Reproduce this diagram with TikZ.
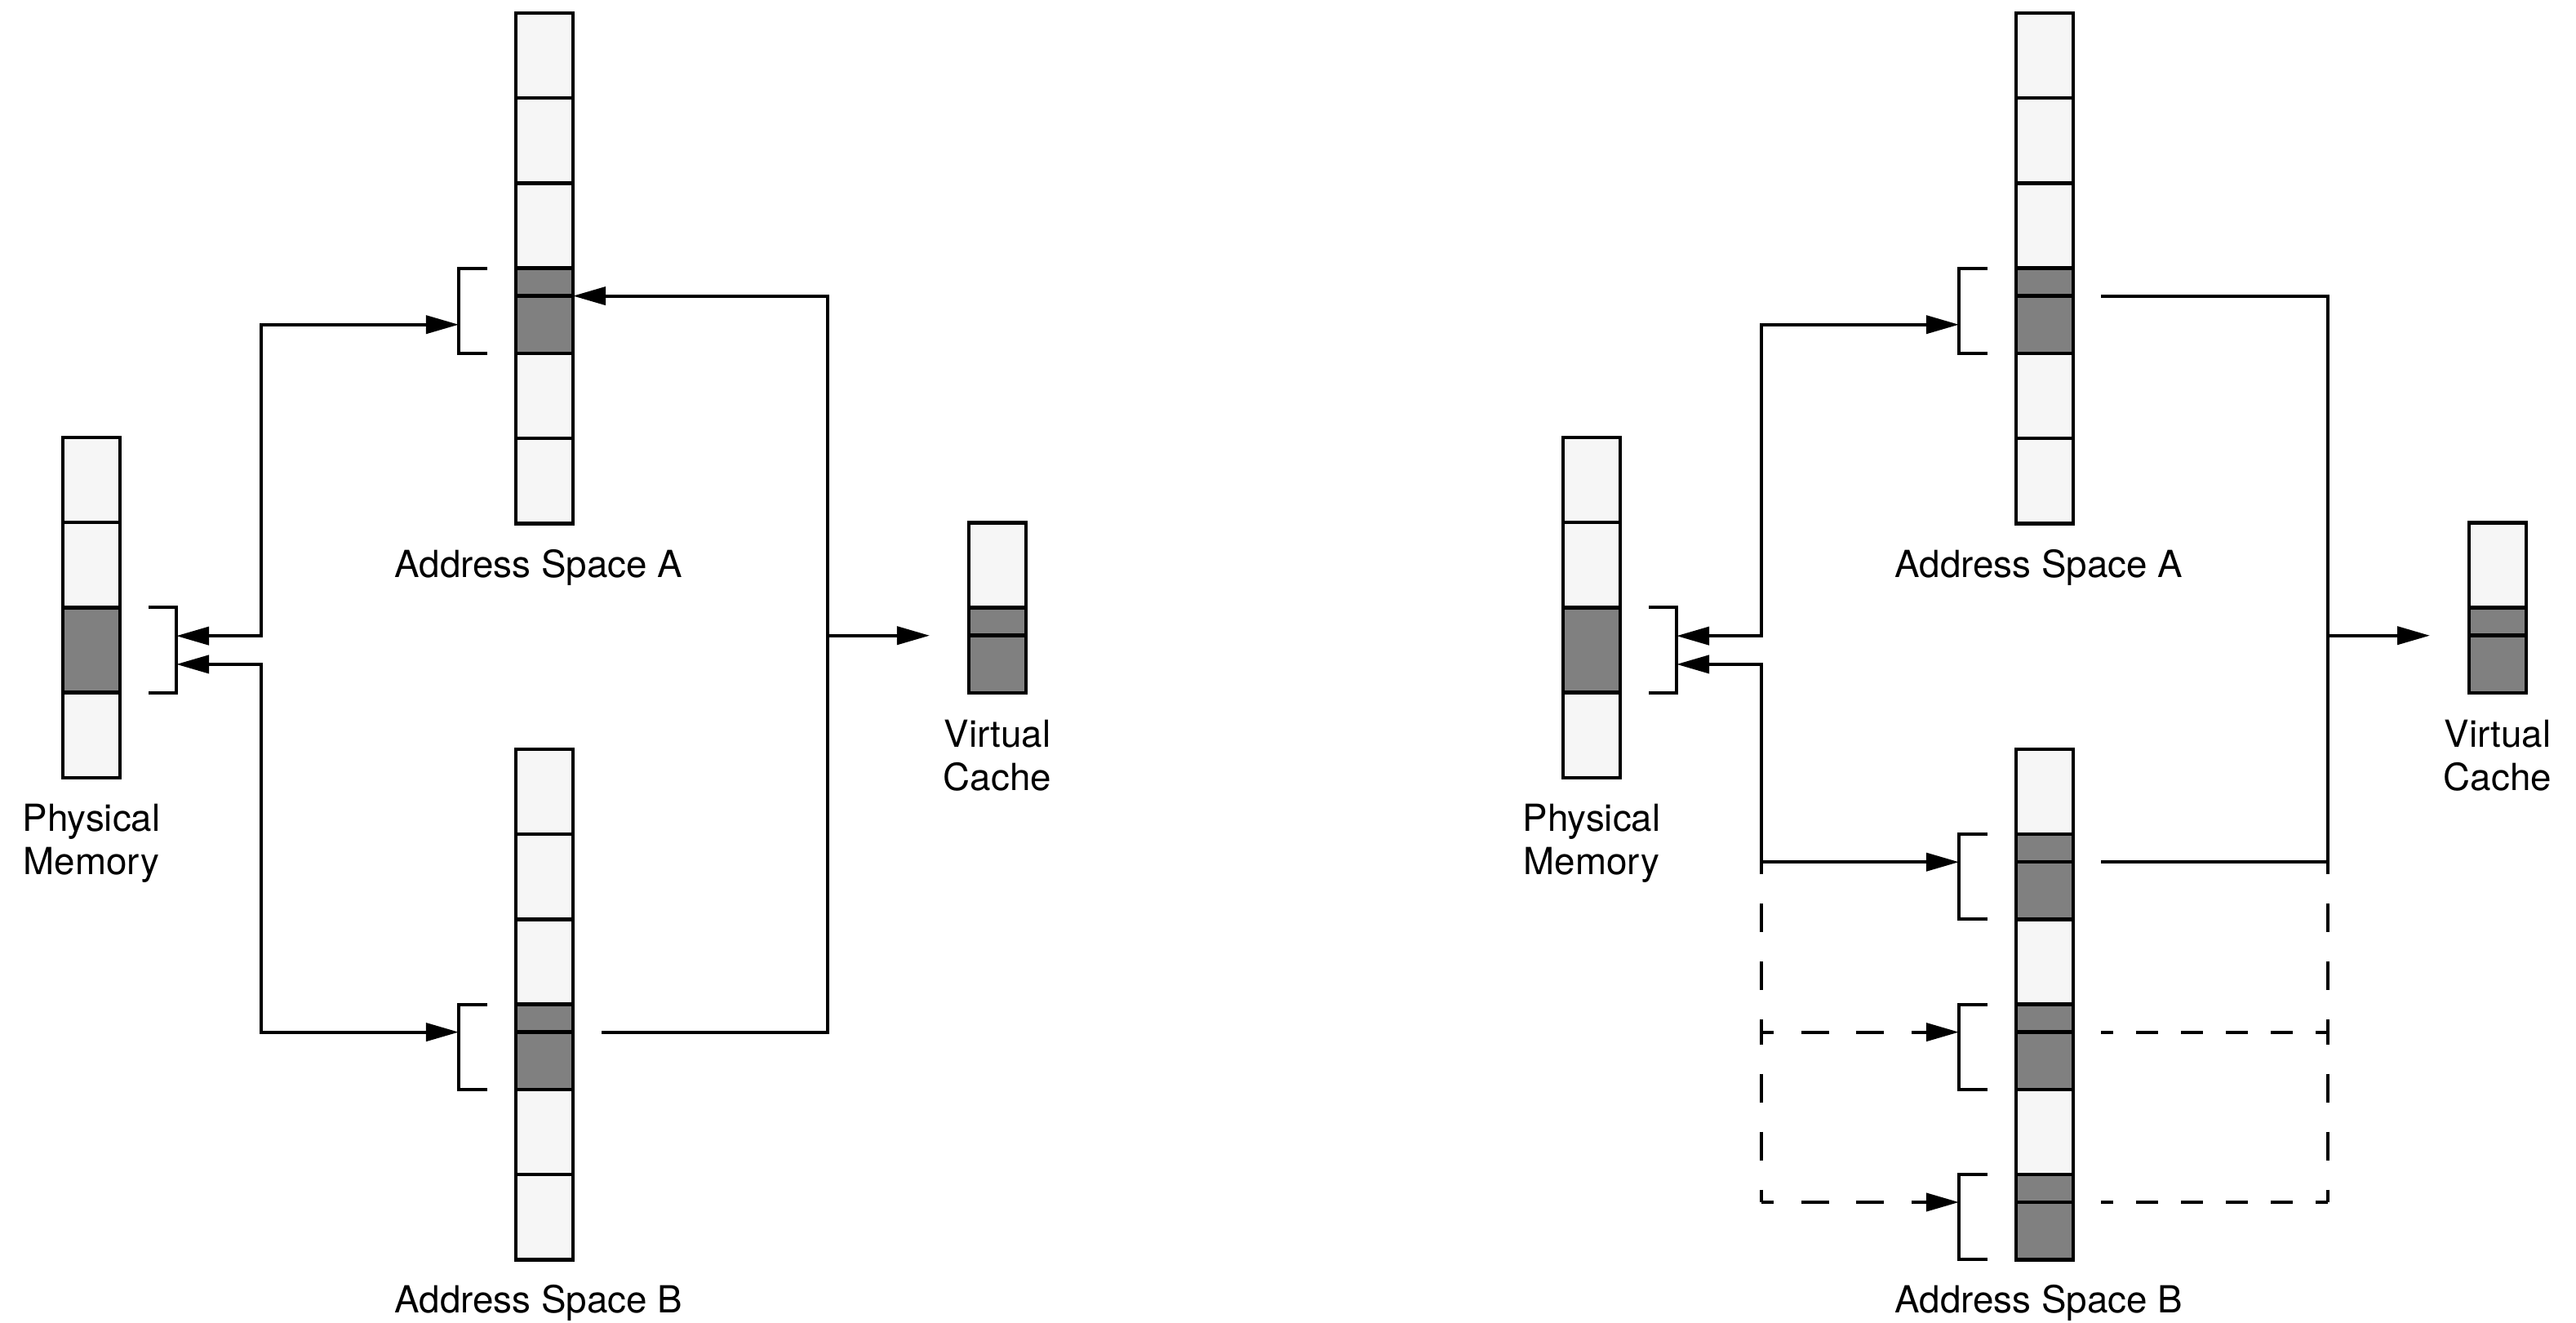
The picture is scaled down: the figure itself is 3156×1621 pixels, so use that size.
\documentclass[tikz,border=0pt]{standalone}
\usepackage{fontspec}
\setmainfont{TeX Gyre Heros}
\usetikzlibrary{arrows.meta,calc}
\definecolor{cellL}{RGB}{246,246,246}
\definecolor{cellD}{RGB}{128,128,128}
\begin{document}
\begin{tikzpicture}[x=0.01cm, y=-0.01cm,
  box/.style={draw=black, line width=0.045cm, inner sep=0pt, outer sep=0pt, anchor=north west, minimum width=0.70cm},
  lcell/.style={box, fill=cellL, minimum height=1.042cm},
  dcell/.style={box, fill=cellD, minimum height=1.042cm},
  dtop/.style={box, fill=cellD, minimum height=0.34cm},
  dbot/.style={box, fill=cellD, minimum height=0.702cm},
  conn/.style={line width=0.04cm, draw=black},
  brk/.style={line width=0.04cm, draw=black},
  dashV/.style={conn, dash pattern=on 0.35cm off 0.36cm, dash phase=0.20cm},
  dashHL/.style={conn, dash pattern=on 0.34cm off 0.335cm, dash phase=0.19cm},
  dashHR/.style={conn, dash pattern=on 0.27cm off 0.28cm, dash phase=0.12cm},
  lbl/.style={font=\fontsize{13pt}{15.3pt}\selectfont, inner sep=0pt, anchor=base},
  >={Triangle[length=0.40cm,width=0.22cm]}
]
\fill[white] (0,0) rectangle (3156,1621);
\useasboundingbox (0,0) rectangle (3156,1621);

% ================= LEFT PANEL =================
% Physical memory
\node[lcell] (pmL1) at (77,536) {};
\node[lcell] (pmL2) at (77,640.2) {};
\node[dcell] (pmL3) at (77,744.4) {};
\node[lcell] (pmL4) at (77,848.6) {};
% Address space A
\foreach \i/\y in {1/16, 2/120.2, 3/224.4, 5/432.8, 6/537}
  \node[lcell] (aL\i) at (632,\y) {};
\node[dtop] (aL4t) at (632,328.6) {};
\node[dbot] (aL4b) at (632,362.6) {};
% Address space B
\foreach \i/\y in {1/918, 2/1022.2, 3/1126.4, 5/1334.8, 6/1439}
  \node[lcell] (bL\i) at (632,\y) {};
\node[dtop] (bL4t) at (632,1230.6) {};
\node[dbot] (bL4b) at (632,1264.6) {};
% Virtual cache
\node[lcell] (vcL1) at (1187,640.5) {};
\node[dtop] (vcL2t) at (1187,744.7) {};
\node[dbot] (vcL2b) at (1187,778.7) {};

% brackets
\draw[brk] ($(aL4t.north west)+(-35,0)$) -- ++(-35,0) |- ($(aL4b.south west)+(-35,0)$);
\draw[brk] ($(bL4t.north west)+(-35,0)$) -- ++(-35,0) |- ($(bL4b.south west)+(-35,0)$);
\draw[brk] ($(pmL3.north east)+(35,0)$) -- ++(34,0) |- ($(pmL3.south east)+(35,0)$);

% named points
\coordinate (busLL) at (320,0);
\coordinate (busRL) at (1014,0);
\coordinate (tAL) at ($(aL4b.west)+(-70,0)$);
\coordinate (tBL) at ($(bL4b.north west)+(-70,0)$);
\coordinate (pmUL) at ($(pmL3.north east)!0.3333!(pmL3.south east)+(69,0)$);
\coordinate (pmDL) at ($(pmL3.north east)!0.6667!(pmL3.south east)+(69,0)$);
\coordinate (oBL) at ($(bL4b.north east)+(35,0)$);
\coordinate (vcTipL) at ($(vcL2t.south west)+(-48,0)$);

% connectors
\draw[conn,<->] (pmUL) -- (pmUL -| busLL) |- (tAL);
\draw[conn,<->] (pmDL) -- (pmDL -| busLL) |- (tBL);
\draw[conn,->] (oBL) -- (oBL -| busRL) |- (aL4b.north east);
\draw[conn,->] (vcTipL -| busRL) -- (vcTipL);

% labels
\node[lbl] (labAL) at (660,707) {Address Space A};
\node[lbl] (labBL) at (660,1608) {Address Space B};
\node[lbl] (labPML) at (112,1018) {\begin{tabular}[t]{@{}c@{}}Physical\\Memory\end{tabular}};
\node[lbl] (labVCL) at (1222,915) {\begin{tabular}[t]{@{}c@{}}Virtual\\Cache\end{tabular}};

% ================= RIGHT PANEL =================
\node[lcell] (pmR1) at (1915,536) {};
\node[lcell] (pmR2) at (1915,640.2) {};
\node[dcell] (pmR3) at (1915,744.4) {};
\node[lcell] (pmR4) at (1915,848.6) {};
\foreach \i/\y in {1/16, 2/120.2, 3/224.4, 5/432.8, 6/537}
  \node[lcell] (aR\i) at (2470,\y) {};
\node[dtop] (aR4t) at (2470,328.6) {};
\node[dbot] (aR4b) at (2470,362.6) {};
\foreach \i/\y in {1/918, 3/1126.4, 5/1334.8}
  \node[lcell] (bR\i) at (2470,\y) {};
\node[dtop] (bR2t) at (2470,1022.2) {};
\node[dbot] (bR2b) at (2470,1056.2) {};
\node[dtop] (bR4t) at (2470,1230.6) {};
\node[dbot] (bR4b) at (2470,1264.6) {};
\node[dtop] (bR6t) at (2470,1439) {};
\node[dbot] (bR6b) at (2470,1473) {};
\node[lcell] (vcR1) at (3025,640.5) {};
\node[dtop] (vcR2t) at (3025,744.7) {};
\node[dbot] (vcR2b) at (3025,778.7) {};

% brackets
\draw[brk] ($(aR4t.north west)+(-35,0)$) -- ++(-35,0) |- ($(aR4b.south west)+(-35,0)$);
\draw[brk] ($(bR2t.north west)+(-35,0)$) -- ++(-35,0) |- ($(bR2b.south west)+(-35,0)$);
\draw[brk] ($(bR4t.north west)+(-35,0)$) -- ++(-35,0) |- ($(bR4b.south west)+(-35,0)$);
\draw[brk] ($(bR6t.north west)+(-35,0)$) -- ++(-35,0) |- ($(bR6b.south west)+(-35,0)$);
\draw[brk] ($(pmR3.north east)+(35,0)$) -- ++(34,0) |- ($(pmR3.south east)+(35,0)$);

% named points
\coordinate (busLR) at (2158,0);
\coordinate (busRR) at (2852,0);
\coordinate (tAR) at ($(aR4b.west)+(-70,0)$);
\coordinate (tB1R) at ($(bR2b.north west)+(-70,0)$);
\coordinate (tB2R) at ($(bR4b.north west)+(-70,0)$);
\coordinate (tB3R) at ($(bR6b.north west)+(-70,0)$);
\coordinate (pmUR) at ($(pmR3.north east)!0.3333!(pmR3.south east)+(69,0)$);
\coordinate (pmDR) at ($(pmR3.north east)!0.6667!(pmR3.south east)+(69,0)$);
\coordinate (oAR) at ($(aR4b.north east)+(34,0)$);
\coordinate (oB1R) at ($(bR2b.north east)+(34,0)$);
\coordinate (oB2R) at ($(bR4b.north east)+(34,0)$);
\coordinate (oB3R) at ($(bR6b.north east)+(34,0)$);
\coordinate (vcTipR) at ($(vcR2t.south west)+(-48,0)$);

% connectors
\draw[conn,<->] (pmUR) -- (pmUR -| busLR) |- (tAR);
\draw[conn,<->] (pmDR) -- (pmDR -| busLR) |- (tB1R);
\draw[dashV] (tB1R -| busLR) -- (tB2R -| busLR);
\draw[dashV] (tB2R -| busLR) -- (tB3R -| busLR);
\draw[dashHL,->] (tB2R -| busLR) -- (tB2R);
\draw[dashHL,->] (tB3R -| busLR) -- (tB3R);
\draw[conn] (oAR) -- (oAR -| busRR) |- (oB1R);
\draw[conn,->] (vcTipR -| busRR) -- (vcTipR);
\draw[dashV] (oB1R -| busRR) -- (oB2R -| busRR);
\draw[dashV] (oB2R -| busRR) -- (oB3R -| busRR);
\draw[dashHR] (oB2R) -- (oB2R -| busRR);
\draw[dashHR] (oB3R) -- (oB3R -| busRR);

% labels
\node[lbl] (labAR) at (2498,707) {Address Space A};
\node[lbl] (labBR) at (2498,1608) {Address Space B};
\node[lbl] (labPMR) at (1950,1018) {\begin{tabular}[t]{@{}c@{}}Physical\\Memory\end{tabular}};
\node[lbl] (labVCR) at (3060,915) {\begin{tabular}[t]{@{}c@{}}Virtual\\Cache\end{tabular}};
\end{tikzpicture}
\end{document}
